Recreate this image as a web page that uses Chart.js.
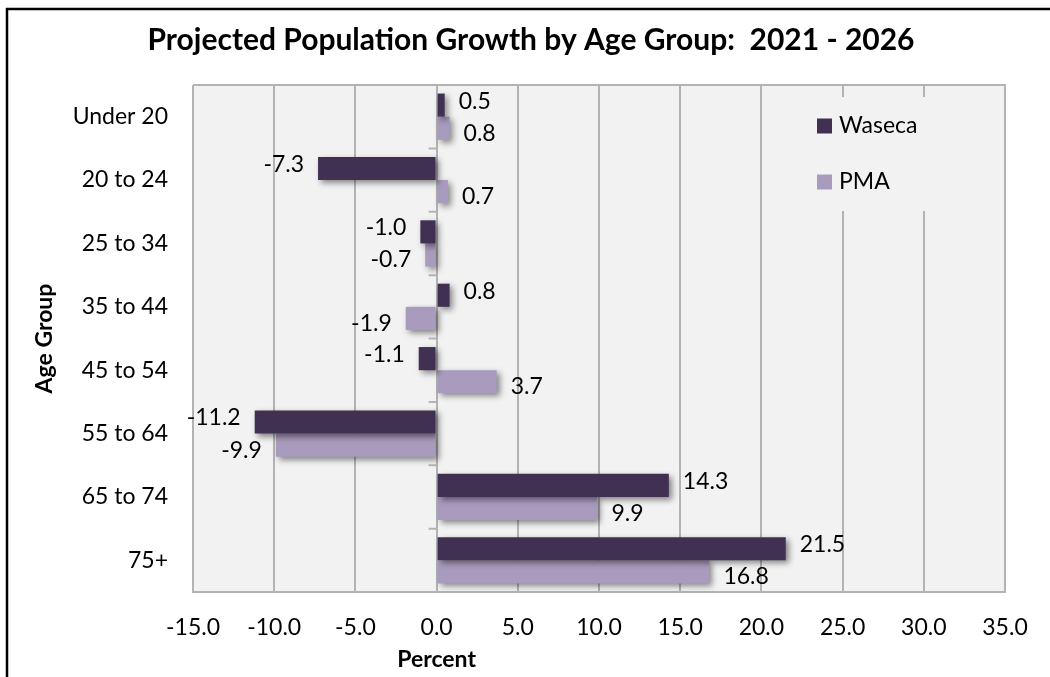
<!DOCTYPE html>
<html>
<head>
<meta charset="utf-8">
<script src="https://cdn.jsdelivr.net/npm/chart.js@4/dist/chart.umd.min.js"></script>
<style>
  html, body { margin: 0; padding: 0; background: #fff; }
  #growthChart { display: block; }
</style>
</head>
<body>
<canvas id="growthChart" width="1050" height="677"></canvas>
<script>
const ageGroups = ["Under 20", "20 to 24", "25 to 34", "35 to 44", "45 to 54", "55 to 64", "65 to 74", "75+"];
const wasecaGrowth = [0.5, -7.3, -1.0, 0.8, -1.1, -11.2, 14.3, 21.5];
const pmaGrowth = [0.8, 0.7, -0.7, -1.9, 3.7, -9.9, 9.9, 16.8];
const percentMin = -15;
const percentMax = 35;
const percentStep = 5;
const chartTitle = "Projected Population Growth by Age Group:  2021 - 2026";

const FONT = "Lato";
const GRID = "#b3b3b3";
const PLOT_BG = "#f2f2f2";

// plot background, bar shadows, value labels, zero axis ticks, legend, titles, frame
const decorations = {
  id: "decorations",
  beforeDraw(chart) {
    const { ctx, chartArea: a } = chart;
    ctx.save();
    ctx.fillStyle = PLOT_BG;
    ctx.fillRect(a.left, a.top, a.right - a.left, a.bottom - a.top);
    ctx.restore();
  },
  beforeDatasetsDraw(chart) {
    const ctx = chart.ctx;
    ctx.save();
    ctx.shadowColor = "rgba(0,0,0,0.45)";
    ctx.shadowBlur = 6;
    ctx.shadowOffsetX = 3;
    ctx.shadowOffsetY = 3;
  },
  afterDatasetsDraw(chart) {
    const { ctx, chartArea: a, scales } = chart;
    ctx.restore();

    // plot border on top and right
    ctx.save();
    ctx.strokeStyle = GRID;
    ctx.lineWidth = 2;
    ctx.beginPath();
    ctx.moveTo(a.left, a.top);
    ctx.lineTo(a.right, a.top);
    ctx.lineTo(a.right, a.bottom);
    ctx.stroke();

    // category ticks along the zero line
    const x0 = scales.x.getPixelForValue(0);
    const catH = (a.bottom - a.top) / ageGroups.length;
    ctx.beginPath();
    for (let i = 0; i <= ageGroups.length; i++) {
      const y = a.top + i * catH;
      ctx.moveTo(x0 - 8, y);
      ctx.lineTo(x0, y);
    }
    ctx.stroke();

    // value labels
    ctx.fillStyle = "#000";
    ctx.font = "23px " + FONT;
    ctx.textBaseline = "middle";
    chart.data.datasets.forEach((ds, di) => {
      const meta = chart.getDatasetMeta(di);
      const nudge = di === 0 ? -4 : 5;
      meta.data.forEach((bar, i) => {
        const v = ds.data[i];
        const txt = v.toFixed(1);
        if (v >= 0) {
          ctx.textAlign = "left";
          ctx.fillText(txt, bar.x + 14, bar.y + nudge);
        } else {
          ctx.textAlign = "right";
          ctx.fillText(txt, bar.x - 14, bar.y + nudge);
        }
      });
    });

    // legend box inside the plot
    const lx = a.right - 200;
    const ly = a.top + 12;
    ctx.fillStyle = PLOT_BG;
    ctx.fillRect(lx, ly, 185, 114);
    ctx.textAlign = "left";
    chart.data.datasets.forEach((ds, di) => {
      const cy = a.top + 41 + di * 56;
      ctx.fillStyle = ds.backgroundColor;
      ctx.fillRect(lx + 12, cy - 7.5, 15, 15);
      ctx.fillStyle = "#000";
      ctx.fillText(ds.label, lx + 34, cy);
    });
    ctx.restore();
  },
  afterDraw(chart) {
    const { ctx, scales } = chart;
    ctx.save();
    ctx.fillStyle = "#000";
    ctx.textAlign = "center";
    ctx.textBaseline = "middle";

    // chart title, centred on the framed area
    ctx.font = "bold 30px " + FONT;
    ctx.fillText(chartTitle, (chart.width + 12) / 2, 40);

    // x axis title sits under the zero line
    ctx.font = "bold 23px " + FONT;
    ctx.fillText("Percent", scales.x.getPixelForValue(0), chart.height - 17);

    // outer frame
    ctx.strokeStyle = "#000";
    ctx.lineWidth = 2.5;
    ctx.beginPath();
    ctx.moveTo(7, chart.height + 5);
    ctx.lineTo(7, 9);
    ctx.lineTo(chart.width + 5, 9);
    ctx.stroke();
    ctx.restore();
  }
};

const ctx = document.getElementById("growthChart").getContext("2d");
const chart = new Chart(ctx, {
  type: "bar",
  data: {
    labels: ageGroups,
    datasets: [
      {
        label: "Waseca",
        data: wasecaGrowth,
        backgroundColor: "#403152",
        categoryPercentage: 0.73,
        barPercentage: 1.0
      },
      {
        label: "PMA",
        data: pmaGrowth,
        backgroundColor: "#a99bbe",
        categoryPercentage: 0.73,
        barPercentage: 1.0
      }
    ]
  },
  options: {
    indexAxis: "y",
    responsive: false,
    animation: false,
    devicePixelRatio: 1,
    layout: { padding: { left: 0, right: 45, top: 85, bottom: 0 } },
    plugins: {
      legend: { display: false },
      tooltip: { enabled: false },
      title: { display: false }
    },
    scales: {
      x: {
        min: percentMin,
        max: percentMax,
        grid: { color: GRID, lineWidth: 2, drawTicks: false },
        border: { display: true, color: GRID, width: 2 },
        ticks: {
          stepSize: percentStep,
          color: "#000",
          padding: 22,
          font: { family: FONT, size: 23 },
          callback: (v) => Number(v).toFixed(1)
        },
        afterFit(scale) { scale.height = 85; }
      },
      y: {
        grid: { display: false, drawTicks: false },
        border: { display: false },
        ticks: {
          color: "#000",
          padding: 25,
          font: { family: FONT, size: 23 }
        },
        title: {
          display: true,
          text: "Age Group",
          color: "#000",
          font: { family: FONT, size: 23, weight: "bold", lineHeight: 1.2 },
          padding: { top: 31, bottom: 0 }
        },
        afterFit(scale) { scale.width = 193; }
      }
    }
  },
  plugins: [decorations]
});
</script>
</body>
</html>
